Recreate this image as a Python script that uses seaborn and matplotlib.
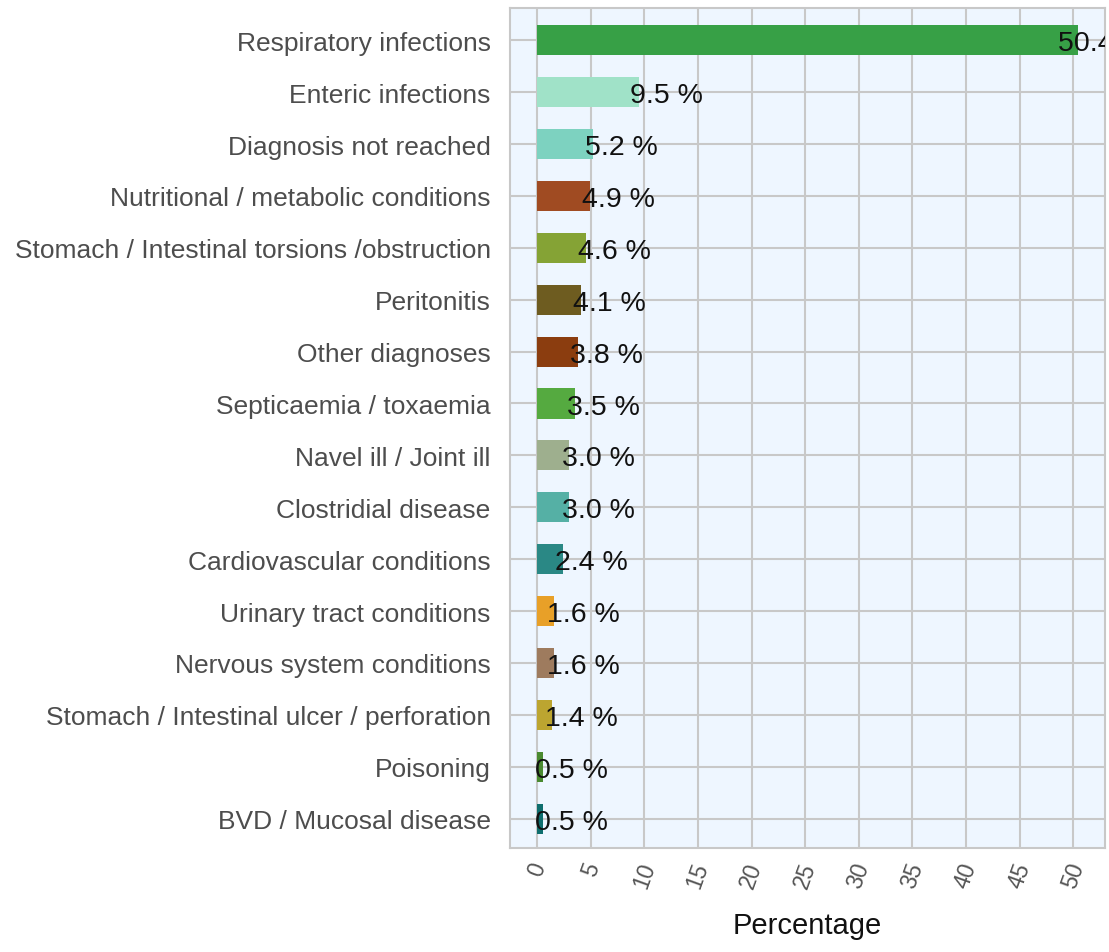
import numpy as np
import pandas as pd
import matplotlib.pyplot as plt
import seaborn as sns

# ── Data ───────────────────────────────────────────────────────────────────────
categories = [
    "Respiratory infections",
    "Enteric infections",
    "Diagnosis not reached",
    "Nutritional / metabolic conditions",
    "Stomach / Intestinal torsions /obstruction",
    "Peritonitis",
    "Other diagnoses",
    "Septicaemia / toxaemia",
    "Navel ill / Joint ill",
    "Clostridial disease",
    "Cardiovascular conditions",
    "Urinary tract conditions",
    "Nervous system conditions",
    "Stomach / Intestinal ulcer / perforation",
    "Poisoning",
    "BVD / Mucosal disease",
]
percentages = [50.4, 9.5, 5.2, 4.9, 4.6, 4.1, 3.8, 3.5, 3.0, 3.0, 2.4, 1.6, 1.6, 1.4, 0.5, 0.5]
colors = [
    "#37a046", "#a0e2c8", "#7dd2c0", "#a04b22", "#85a335", "#6e5c20",
    "#8b3d0f", "#55aa40", "#9eaf8e", "#55b0a5", "#2a8885", "#e8a028",
    "#9e7b5e", "#bca530", "#4a8a30", "#0e6e6e",
]
xticks = list(range(0, 55, 5))

df = pd.DataFrame({"diagnosis": categories, "pct": percentages})

# ── Plot ───────────────────────────────────────────────────────────────────────
sns.set_style("white")
plt.rcParams["font.family"] = ["Liberation Sans", "DejaVu Sans"]

fig = plt.figure(figsize=(11.09, 9.53), dpi=100)
ax = fig.add_axes([0.46, 0.109, 0.536, 0.882])
ax.set_facecolor("#eef6ff")

sns.barplot(data=df, x="pct", y="diagnosis", hue="diagnosis", palette=colors,
            orient="h", width=0.58, legend=False, saturation=1, linewidth=0,
            ax=ax, zorder=2)

# value labels sit a little inside the bar end (clipped at the axes edge)
for i, v in enumerate(percentages):
    ax.text(v * 0.977 - 0.65, i + 0.06, f"{v:.1f} %", ha="left", va="center",
            fontsize=20.5, color="#111111", clip_on=True, zorder=3)

ax.set_xlim(-2.52, 52.92)
ax.set_ylim(15.57, -0.63)
ax.set_xticks(xticks)
ax.set_xticklabels([str(t) for t in xticks], rotation=70, fontsize=16.5, color="#555555")
ax.tick_params(axis="y", labelsize=19, labelcolor="#4d4d4d", length=0, pad=14)
ax.tick_params(axis="x", length=0, pad=8)
ax.grid(True, color="#c8c8c8", linewidth=1.5, zorder=0)
ax.set_axisbelow(True)
for s in ax.spines.values():
    s.set_color("#c8c8c8")
    s.set_linewidth(1.5)

ax.set_ylabel("")
ax.set_xlabel("Percentage", fontsize=21, color="#111111", labelpad=14)

plt.savefig("out.png", dpi=100)
